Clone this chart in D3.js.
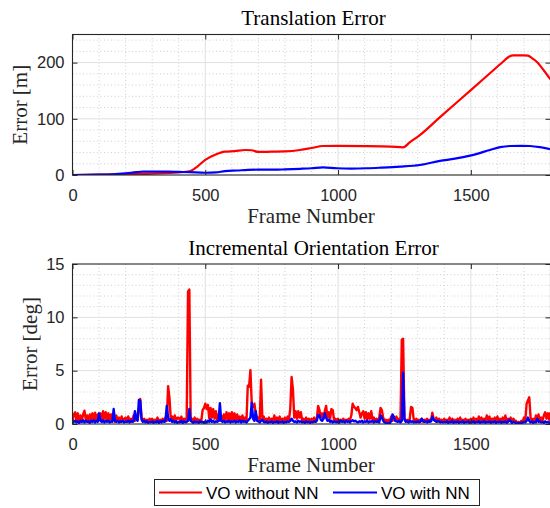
<!DOCTYPE html>
<html><head><meta charset="utf-8">
<script src="https://cdn.jsdelivr.net/npm/d3@7"></script>
<style>body{margin:0;background:#fff}svg{display:block}</style>
</head><body><svg id="c" width="550" height="508"></svg>
<script>
// ---------- data ----------
const xTicks = [0, 500, 1000, 1500];
const transYTicks = [0, 100, 200];
const orientYTicks = [0, 5, 10, 15];
const seriesNames = ["VO without NN", "VO with NN"];
const seriesColors = ["#ff0000", "#0000ff"];

// Translation error (m)
const transRedFrames = [0, 100, 200, 300, 400, 440, 470, 500, 537, 574, 610, 650, 675, 700, 750, 800, 857, 900, 943, 1000, 1100, 1200, 1245, 1270, 1308, 1384, 1500, 1572, 1620, 1645, 1660, 1700, 1715, 1730, 1748, 1775, 1800];
const transRed = [0, 0.5, 1.5, 2.5, 4.5, 6.5, 15, 27, 36, 41.5, 42.5, 44.5, 44, 41, 41.5, 42, 44.5, 48, 51.6, 51.8, 51.5, 50.5, 49.3, 58, 71, 103, 151, 181, 201, 211, 213, 213, 212.5, 208, 201.6, 186, 170];
const transBlueFrames = [0, 100, 150, 200, 240, 265, 300, 360, 400, 442, 500, 540, 574, 620, 660, 700, 760, 800, 857, 900, 943, 996, 1050, 1108, 1160, 1233, 1308, 1384, 1440, 1497, 1572, 1610, 1647, 1690, 1723, 1760, 1798];
const transBlue = [0, 0.5, 1.2, 3, 5, 6, 6, 6, 5.5, 5, 4, 4.5, 7, 8, 9, 9.5, 9.5, 10, 11, 12, 13.7, 12, 11.5, 12, 13, 14.8, 17.8, 25, 29, 34.4, 44.5, 49.5, 51.6, 52, 51.6, 49.5, 46];

// Incremental orientation error (deg), one value every 5 frames (0..1800)
const orientFrames = d3.range(0, 1801, 5);
const orientRed = [
0.3,0.9,1.1,0.3,1.0,0.2,0.8,0.3,0.9,1.25,0.4,0.8,0.2,0.9,0.3,1.0,0.4,1.05,0.3,0.9,
0.4,1.0,0.3,1.2,0.5,1.1,0.3,1.0,0.4,0.9,0.3,0.7,0.2,0.8,0.3,0.6,0.2,0.7,0.3,0.5,
0.6,0.2,0.7,0.3,0.5,0.2,0.8,0.3,0.6,0.4,1.2,2.35,0.6,0.3,0.5,0.2,0.4,0.2,0.5,0.3,
0.5,0.2,0.4,0.3,0.6,0.2,0.4,0.3,0.5,0.3,0.6,0.3,3.55,2.5,0.5,0.7,0.3,0.8,0.3,0.6,
0.6,0.3,0.7,0.2,0.5,0.3,0.6,12.4,12.6,0.4,0.5,0.2,0.6,0.3,0.5,0.2,0.4,0.3,1.3,1.5,
1.9,1.4,1.8,0.5,1.5,0.6,1.4,0.5,1.2,0.4,0.9,0.3,0.8,0.3,0.9,0.4,1.1,0.4,1.0,0.3,
1.1,0.4,1.0,0.3,0.9,0.4,0.7,0.3,0.8,0.3,0.6,0.2,3.6,3.5,5.05,1.9,1.6,1.9,1.0,0.4,
0.6,0.3,4.15,0.5,0.7,0.2,0.5,0.3,0.6,0.2,0.5,0.3,0.8,0.2,0.6,0.3,0.7,0.2,0.5,0.3,
0.6,0.3,0.7,0.4,1.4,4.4,3.3,0.6,1.2,0.5,1.2,0.6,1.1,0.3,0.5,0.2,0.6,0.3,0.5,0.2,
0.5,0.3,0.6,0.2,0.5,1.7,1.3,0.6,1.0,0.5,1.2,1.7,0.6,1.1,0.5,1.4,1.3,0.4,0.5,0.3,
0.5,0.2,0.4,0.3,0.5,0.2,0.4,0.3,0.5,0.4,0.8,1.9,1.6,1.5,1.3,1.6,1.1,0.6,1.0,1.2,
0.5,1.1,0.4,1.0,0.5,1.2,0.4,0.6,0.3,0.5,0.2,0.6,1.5,1.3,0.6,0.3,0.4,0.2,0.4,0.3,
0.7,0.3,0.6,0.4,0.7,0.3,0.5,0.2,7.9,8.0,0.5,0.3,0.4,0.2,0.5,1.6,1.5,0.4,0.3,0.5,
0.2,0.4,0.3,0.5,0.2,0.4,0.3,0.5,0.2,0.4,0.3,1.05,0.5,0.3,0.6,0.2,0.5,0.3,0.4,0.2,
0.5,0.2,0.4,0.3,0.6,0.2,0.5,0.3,0.4,0.2,0.5,0.3,0.6,0.2,0.4,0.3,0.5,0.2,0.4,0.3,
0.5,0.2,0.6,0.3,0.5,0.2,0.7,0.3,0.6,0.2,0.5,0.3,0.8,0.3,0.7,0.2,0.5,0.3,0.6,0.2,
0.7,0.3,0.5,0.2,0.6,0.3,0.8,0.2,0.5,0.3,0.6,0.2,0.5,0.3,0.3,0.1,0.2,0.1,0.3,0.2,
0.6,0.3,1.9,2.2,2.5,0.6,0.3,0.5,0.2,0.8,0.4,0.9,0.3,0.6,0.3,0.8,1.1,0.5,1.0,0.4,1.1
];
const orientBlue = [
0.1,0.2,0.3,0.15,0.25,0.1,0.3,0.2,0.35,0.15,0.3,0.2,0.25,0.1,0.3,0.2,0.35,0.15,0.3,0.2,
1.0,0.3,0.2,0.35,0.15,0.3,0.2,0.3,0.15,0.25,0.2,1.4,0.3,0.2,0.3,0.15,0.25,0.2,0.3,0.15,
0.25,0.2,0.3,0.15,0.3,0.2,0.25,1.2,0.5,0.3,2.25,2.2,0.4,0.2,0.3,0.15,0.25,0.1,0.2,0.15,
0.25,0.1,0.2,0.15,0.3,0.1,0.25,0.15,0.3,0.2,0.25,1.7,0.6,0.3,0.45,0.2,0.3,0.15,0.25,0.1,
0.2,0.15,0.3,0.1,0.25,0.15,0.2,0.3,1.4,0.3,0.2,0.1,0.25,0.15,0.2,0.1,0.25,0.15,0.2,0.1,
0.25,0.15,0.3,0.2,0.45,0.2,0.3,0.15,0.25,0.2,0.3,1.95,0.3,0.2,0.3,0.15,0.25,0.2,0.3,0.15,
0.25,0.2,0.3,0.15,0.25,0.2,0.35,0.15,0.3,0.2,0.25,0.15,0.3,0.45,0.6,2.0,0.5,0.3,1.2,0.3,
0.25,0.15,0.3,0.4,0.2,0.15,0.25,0.1,0.2,0.15,0.25,0.1,0.2,0.15,0.25,0.1,0.2,0.15,0.25,0.1,
0.2,0.15,0.25,0.2,0.3,0.5,0.3,0.2,0.25,0.15,0.3,0.2,0.25,0.15,0.2,0.1,0.25,0.15,0.2,0.1,
0.2,0.15,0.25,0.2,0.3,0.85,0.8,0.4,0.3,0.5,1.0,0.6,0.3,0.4,0.2,0.3,0.15,0.25,0.2,0.15,
0.25,0.15,0.3,0.2,0.25,0.15,0.3,0.2,0.25,0.15,0.3,0.35,0.25,0.3,0.2,0.15,0.25,0.2,0.3,0.15,
0.25,0.2,0.3,0.15,0.25,0.2,0.3,0.15,0.25,0.2,0.3,0.15,0.8,0.6,0.3,0.15,0.1,0.05,0.1,0.05,
0.3,0.9,0.7,0.3,0.25,0.2,0.3,0.15,0.3,4.8,0.4,0.2,0.25,0.15,0.3,0.2,0.25,0.15,0.2,0.15,
0.25,0.15,0.2,0.5,0.3,0.2,0.25,0.15,0.3,0.2,0.25,0.7,0.4,0.3,0.2,0.3,0.25,0.15,0.2,0.15,
0.2,0.15,0.25,0.1,0.2,0.15,0.3,0.1,0.2,0.15,0.25,0.1,0.2,0.15,0.25,0.1,0.2,0.15,0.25,0.1,
0.2,0.15,0.25,0.1,0.2,0.15,0.25,0.1,0.2,0.15,0.3,0.1,0.2,0.15,0.25,0.1,0.2,0.15,0.25,0.1,
0.2,0.15,0.25,0.1,0.2,0.15,0.25,0.1,0.2,0.4,0.25,0.1,0.2,0.15,0.1,0.05,0.1,0.05,0.15,0.1,
0.2,0.15,0.3,0.6,0.3,0.15,0.25,0.1,0.2,0.15,0.5,0.2,0.25,0.15,0.2,0.1,0.25,0.15,0.2,0.1,0.2
];

// ---------- drawing ----------
const svg = d3.select("#c");
const AX = "#262626";
const left = 72.5, right = 550.5;
const x = d3.scaleLinear().domain([0, 1800]).range([left, right]);
const tickFont = "'Liberation Sans', Arial, Helvetica, sans-serif";
const serif = "'Liberation Serif', 'Times New Roman', serif";

function panel(id, top, bottom, yDomain, yTicks, yMinorStep, title, ylabel, ylabelX, lines, lw) {
  const y = d3.scaleLinear().domain(yDomain).range([bottom, top]);
  const g = svg.append("g");
  const clip = "clip" + id;
  svg.append("clipPath").attr("id", clip).append("rect")
    .attr("x", left).attr("y", top).attr("width", right - left).attr("height", bottom - top);

  // minor grid
  const xMinor = d3.range(100, 1800, 100).filter(v => v % 500 !== 0);
  const yMinor = d3.range(yDomain[0] + yMinorStep, yDomain[1], yMinorStep).filter(v => !yTicks.some(t => Math.abs(t - v) < 1e-6));
  const grid = g.append("g");
  grid.selectAll(".xm").data(xMinor).join("line")
    .attr("x1", d => x(d)).attr("x2", d => x(d)).attr("y1", top).attr("y2", bottom)
    .attr("stroke", "#c4c4c4").attr("stroke-width", 0.8).attr("stroke-dasharray", "1,2.5");
  grid.selectAll(".ym").data(yMinor).join("line")
    .attr("y1", d => y(d)).attr("y2", d => y(d)).attr("x1", left).attr("x2", right)
    .attr("stroke", "#c4c4c4").attr("stroke-width", 0.8).attr("stroke-dasharray", "1,2.5");
  // major grid
  grid.selectAll(".xM").data(xTicks.filter(v => v > 0)).join("line")
    .attr("x1", d => x(d)).attr("x2", d => x(d)).attr("y1", top).attr("y2", bottom)
    .attr("stroke", "#e0e0e0").attr("stroke-width", 1);
  grid.selectAll(".yM").data(yTicks.filter(v => v > yDomain[0] && v < yDomain[1])).join("line")
    .attr("y1", d => y(d)).attr("y2", d => y(d)).attr("x1", left).attr("x2", right)
    .attr("stroke", "#e0e0e0").attr("stroke-width", 1);

  // data
  const dg = g.append("g").attr("clip-path", `url(#${clip})`);
  lines.forEach((s, i) => {
    const line = d3.line().x((d, j) => x(s.f[j])).y(d => y(d)).curve(s.curve || d3.curveLinear);
    dg.append("path").datum(s.v).attr("d", line).attr("fill", "none")
      .attr("stroke", seriesColors[i]).attr("stroke-width", lw).attr("stroke-linejoin", "round");
  });

  // axes
  const bx = g.append("g").attr("transform", `translate(0,${bottom})`)
    .call(d3.axisBottom(x).tickValues(xTicks).tickSizeInner(-5).tickSizeOuter(0).tickPadding(14).tickFormat(d3.format("d")));
  const tx = g.append("g").attr("transform", `translate(0,${top})`)
    .call(d3.axisTop(x).tickValues(xTicks).tickSizeInner(-5).tickSizeOuter(0).tickFormat(""));
  const ly = g.append("g").attr("transform", `translate(${left},0)`)
    .call(d3.axisLeft(y).tickValues(yTicks).tickSizeInner(-5).tickSizeOuter(0).tickPadding(8).tickFormat(d3.format("d")));
  const ry = g.append("g").attr("transform", `translate(${right},0)`)
    .call(d3.axisRight(y).tickValues(yTicks).tickSizeInner(-5).tickSizeOuter(0).tickFormat(""));
  [bx, tx, ly, ry].forEach(a => {
    a.select(".domain").remove();
    a.selectAll("line").attr("stroke", AX).attr("stroke-width", 1);
    a.selectAll("text").attr("fill", AX).style("font-family", tickFont).style("font-size", "16.5px");
  });
  g.append("rect").attr("x", left).attr("y", top).attr("width", right - left).attr("height", bottom - top)
    .attr("fill", "none").attr("stroke", AX).attr("stroke-width", 1.1);

  // labels
  g.append("text").attr("x", (left + right) / 2 + 2).attr("y", top - 9.5).attr("text-anchor", "middle")
    .style("font-family", serif).style("font-size", "21px").attr("fill", "#000").text(title);
  g.append("text").attr("x", (left + right) / 2 - 0.5).attr("y", bottom + 48).attr("text-anchor", "middle")
    .style("font-family", serif).style("font-size", "21px").attr("fill", AX).text("Frame Number");
  g.append("text").attr("transform", `translate(${ylabelX},${(top + bottom) / 2}) rotate(-90)`)
    .attr("text-anchor", "middle").attr("dy", "0.32em")
    .style("font-family", serif).style("font-size", "21px").attr("fill", AX).text(ylabel);
}

panel("t", 34.5, 175, [0, 250], transYTicks, 20, "Translation Error", "Error [m]", 20,
  [{f: transRedFrames, v: transRed, curve: d3.curveMonotoneX}, {f: transBlueFrames, v: transBlue, curve: d3.curveMonotoneX}],
  2.2);
panel("o", 264, 424, [0, 15], orientYTicks, 1, "Incremental Orientation Error", "Error [deg]", 30,
  [{f: orientFrames, v: orientRed}, {f: orientFrames, v: orientBlue}],
  2.4);

// legend
const lg = svg.append("g");
lg.append("rect").attr("x", 154.5).attr("y", 479.5).attr("width", 325).attr("height", 26)
  .attr("fill", "#fff").attr("stroke", AX).attr("stroke-width", 1);
const items = [{x1: 159, x2: 202, tx: 206}, {x1: 333, x2: 377, tx: 381}];
seriesNames.forEach((n, i) => {
  lg.append("line").attr("x1", items[i].x1).attr("x2", items[i].x2).attr("y1", 492.5).attr("y2", 492.5)
    .attr("stroke", seriesColors[i]).attr("stroke-width", 2.2);
  lg.append("text").attr("x", items[i].tx).attr("y", 498.5).text(n)
    .style("font-family", tickFont).style("font-size", "17px").attr("fill", "#000");
});
</script></body></html>
